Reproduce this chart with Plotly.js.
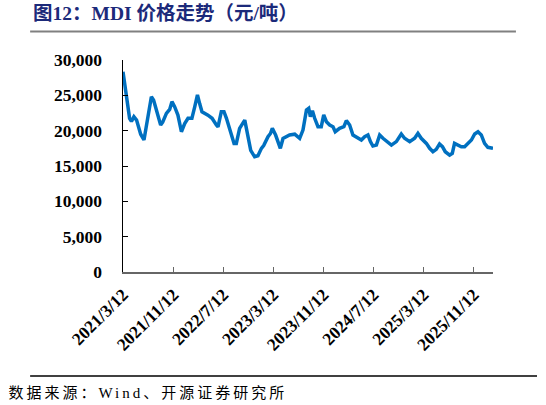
<!DOCTYPE html>
<html>
<head>
<meta charset="utf-8">
<script src="https://cdn.plot.ly/plotly-3.0.1.min.js"></script>
<style>
html,body{margin:0;padding:0;background:#fff;}
#chart{width:546px;height:405px;}
</style>
</head>
<body>
<div id="chart"></div>
<script>
// MDI price (yuan/ton)
var dates = [
"2021-03-12","2021-03-28","2021-04-13","2021-04-22","2021-05-04","2021-05-17","2021-06-06","2021-06-22",
"2021-07-10","2021-07-28","2021-08-08","2021-08-25","2021-09-11","2021-09-21","2021-10-09","2021-10-25",
"2021-11-05","2021-11-18","2021-12-04","2021-12-21","2022-01-06","2022-01-22","2022-02-10","2022-02-24",
"2022-03-09","2022-03-20","2022-03-31","2022-04-29","2022-05-19","2022-06-09","2022-06-17","2022-07-03",
"2022-07-16","2022-07-28","2022-08-18","2022-09-03","2022-09-14","2022-09-30","2022-10-25","2022-11-10",
"2022-11-23","2022-12-12","2022-12-28","2023-01-14","2023-01-25","2023-02-15","2023-02-27","2023-03-08",
"2023-03-24","2023-04-16","2023-04-29","2023-05-31","2023-06-25","2023-07-19","2023-08-04","2023-08-21",
"2023-09-01","2023-09-09","2023-09-19","2023-09-30","2023-10-16","2023-11-01","2023-11-13","2023-11-26",
"2023-12-12","2023-12-28","2024-01-08","2024-01-29","2024-02-19","2024-03-02","2024-03-18","2024-04-03",
"2024-04-27","2024-05-14","2024-05-30","2024-06-15","2024-06-27","2024-07-09","2024-07-26","2024-08-11",
"2024-08-27","2024-09-15","2024-10-07","2024-10-31","2024-11-24","2024-12-10","2025-01-04","2025-01-28",
"2025-02-13","2025-03-01","2025-03-26","2025-04-11","2025-04-27","2025-05-13","2025-05-29","2025-06-12",
"2025-06-26","2025-07-17","2025-07-30","2025-08-10","2025-08-26","2025-09-12","2025-09-28","2025-10-14",
"2025-10-31","2025-11-16","2025-12-02","2025-12-18","2026-01-03","2026-01-19","2026-02-13"
];
var prices = [
28340,25290,21750,21300,21980,21500,19500,18680,
21500,24800,24300,22300,20800,21200,22450,23000,
24100,23400,22200,19850,21000,21750,21750,23400,
25050,23800,22680,22200,21750,20800,20550,22680,
22680,21750,19620,18200,18200,20330,21500,19150,
17200,16310,16450,17500,17900,19150,19600,20330,
19380,17500,18900,19380,19500,18900,20090,22920,
23160,21980,22820,21750,20560,20560,22220,21270,
20800,20560,19850,20330,20560,21420,20800,19390,
18920,18680,19150,19390,18450,17830,17960,19390,
18920,18450,17960,18450,19530,18920,18450,18920,
19620,18920,18200,17500,17020,17360,18110,17730,
17020,16550,16790,18200,17960,17730,17730,18200,
18680,19530,19850,19390,18200,17640,17500
];
var tickDates = ["2021-03-12","2021-11-12","2022-07-12","2023-03-12","2023-11-12","2024-07-12","2025-03-12","2025-11-12"];
var tickLabels = ["2021/3/12","2021/11/12","2022/7/12","2023/3/12","2023/11/12","2024/7/12","2025/3/12","2025/11/12"];
var yTicks = [0,5000,10000,15000,20000,25000,30000];
var yTickLabels = ["0","5,000","10,000","15,000","20,000","25,000","30,000"];
var titleText = "图12：MDI 价格走势（元/吨）";
var sourceText = "数据来源：Wind、开源证券研究所";

var trace = {
  x: dates, y: prices, type: "scatter", mode: "lines",
  line: {color: "#0070C0", width: 3.5}, hoverinfo: "skip"
};

var tickFont = {family: "Liberation Serif, Times New Roman, serif", size: 17.5, color: "#000", weight: "bold"};

var layout = {
  width: 546, height: 405,
  margin: {l: 123, r: 53, t: 60, b: 133},
  paper_bgcolor: "#fff", plot_bgcolor: "#fff",
  showlegend: false,
  xaxis: {
    type: "date",
    range: ["2021-03-12", "2026-02-13"],
    tickmode: "array", tickvals: tickDates, ticktext: tickLabels,
    tickangle: -45,
    ticks: "inside", ticklen: 5, tickcolor: "#666", tickwidth: 1,
    showline: true, linecolor: "#666", linewidth: 1.5,
    showgrid: false, zeroline: false,
    tickfont: tickFont, ticklabelstandoff: 4
  },
  yaxis: {
    range: [0, 30000],
    tickmode: "array", tickvals: yTicks, ticktext: yTickLabels,
    ticks: "inside", ticklen: 5, tickcolor: "#000", tickwidth: 1,
    showline: true, linecolor: "#000", linewidth: 1.5,
    showgrid: false, zeroline: false,
    tickfont: tickFont, ticklabelstandoff: 16
  },
  shapes: [
    {type: "line", xref: "paper", yref: "paper", x0: -0.251, x1: 1.062, y0: 1.134, y1: 1.134,
     line: {color: "#808080", width: 2}},
    {type: "line", xref: "paper", yref: "paper", x0: -0.251, x1: 1.119, y0: -0.49, y1: -0.49,
     line: {color: "#000", width: 1.5}}
  ],
  annotations: [
    {text: "<b>" + titleText + "</b>", xref: "paper", yref: "paper", x: -0.249, y: 1.217,
     xanchor: "left", yanchor: "middle", showarrow: false,
     font: {family: "Liberation Serif, Noto Sans CJK SC, serif", size: 19.5, color: "#1C2A7A"}},
    {text: sourceText, xref: "paper", yref: "paper", x: -0.245, y: -0.571,
     xanchor: "left", yanchor: "middle", showarrow: false,
     font: {family: "Liberation Serif, Noto Sans CJK SC, serif", size: 15, color: "#000"}}
  ]
};

Plotly.newPlot("chart", [trace], layout, {displayModeBar: false, staticPlot: true}).then(function () {
  var texts = document.querySelectorAll(".annotation-text");
  if (texts.length > 1) {
    texts[1].style.letterSpacing = "3px";
  }
});
</script>
</body>
</html>
